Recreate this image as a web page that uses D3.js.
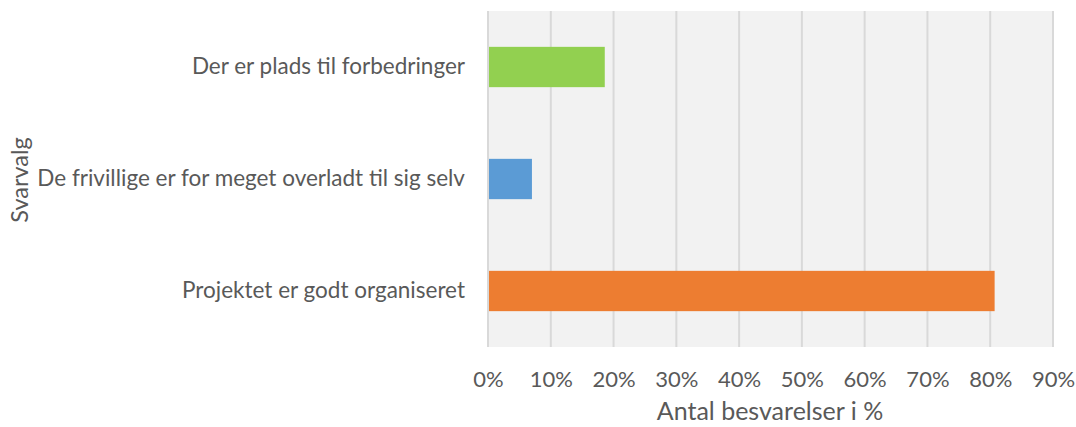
<!DOCTYPE html>
<html><head><meta charset="utf-8">
<script src="https://cdn.jsdelivr.net/npm/d3@7"></script>
<style>body{margin:0;background:#fff;} svg{display:block;}</style>
</head><body>
<svg id="chart" width="1076" height="427"></svg>
<script>
const categories = ["Der er plads til forbedringer", "De frivillige er for meget overladt til sig selv", "Projektet er godt organiseret"];
const values = [18.6, 7.0, 80.7];
const colors = ["#92d050", "#5b9bd5", "#ed7d31"];
const ticks = [0,10,20,30,40,50,60,70,80,90];
const xTitle = "Antal besvarelser i %";
const yTitle = "Svarvalg";

const svg = d3.select("#chart");
const m = {left:488, right:1053, top:11, bottom:347};
const x = d3.scaleLinear().domain([0,90]).range([m.left, m.right]);
const y = d3.scaleBand().domain(categories).range([m.top, m.bottom]).paddingInner(0.64).paddingOuter(0.32);
const font = "Lato, 'Open Sans', sans-serif";

svg.append("rect").attr("x", m.left).attr("y", m.top).attr("width", m.right-m.left).attr("height", m.bottom-m.top).attr("fill", "#f2f2f2");

svg.append("g").selectAll("line").data(ticks).join("line")
  .attr("x1", d=>x(d)).attr("x2", d=>x(d)).attr("y1", m.top).attr("y2", m.bottom)
  .attr("stroke", "#d9d9d9").attr("stroke-width", 2);

svg.append("g").selectAll("rect").data(categories).join("rect")
  .attr("x", x(0)+1).attr("y", d=>y(d)).attr("height", y.bandwidth())
  .attr("width", (d,i)=>x(values[i])-x(0)-1).attr("fill", (d,i)=>colors[i]);

const xAxis = svg.append("g").attr("transform", `translate(0,${m.bottom})`)
  .call(d3.axisBottom(x).tickValues(ticks).tickFormat(d=>d+"%").tickSize(0).tickPadding(24));
xAxis.select(".domain").remove();
xAxis.selectAll("text").attr("font-family", font).attr("font-size", 22).attr("fill", "#595959");

const yAxis = svg.append("g").attr("transform", `translate(${m.left},0)`)
  .call(d3.axisLeft(y).tickSize(0).tickPadding(23));
yAxis.select(".domain").remove();
yAxis.selectAll("text").attr("font-family", font).attr("font-size", 22.5).attr("fill", "#595959");

svg.append("text").attr("x", 770).attr("y", 420).attr("text-anchor", "middle")
  .attr("font-family", font).attr("font-size", 25).attr("fill", "#595959").text(xTitle);
svg.append("text").attr("transform", `translate(28,180) rotate(-90)`).attr("text-anchor", "middle")
  .attr("font-family", font).attr("font-size", 23.5).attr("fill", "#595959").text(yTitle);
</script>
</body></html>
